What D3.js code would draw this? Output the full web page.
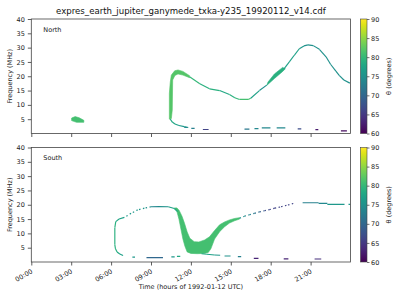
<!DOCTYPE html>
<html>
<head>
<meta charset="utf-8">
<script src="https://cdn.jsdelivr.net/npm/d3@7"></script>
<style>
  body { margin: 0; background: #fff; }
  svg { display: block; font-family: "DejaVu Sans", sans-serif; }
</style>
</head>
<body>
<div id="chart"></div>
<script>
const TITLE = 'expres_earth_jupiter_ganymede_txka-y235_19920112_v14.cdf'
const hourTicks = [0, 3, 6, 9, 12, 15, 18, 21]
const freqTicks = [5, 10, 15, 20, 25, 30, 35, 40]
const thetaTicks = [60, 65, 70, 75, 80, 85, 90]

// thick emission patches: outlines as [hour, MHz], one theta each
const northBlob = { theta: 81, pts: [[3.03, 5.4], [3.3, 5.9], [3.6, 5.5], [3.95, 4.6], [3.95, 3.9], [3.4, 3.9], [3.03, 4.5]] }
const northArc = { theta: 82, pts: [[10.38, 5.0], [10.38, 14.0], [10.45, 18.0], [10.53, 20.4], [10.78, 21.9], [11.03, 22.2], [11.4, 21.7], [11.9, 20.2], [11.9, 19.5], [11.4, 20.4], [11.03, 20.8], [10.8, 20.3], [10.63, 18.7], [10.6, 8.2], [10.53, 5.2]] }
const northBand = { theta: 79, pts: [[17.7, 16.8], [18.28, 19.2], [18.9, 21.7], [19.1, 22.6], [18.9, 23.1], [18.28, 20.8], [17.8, 18.0]] }
const southV = { theta: 81, pts: [[10.75, 18.9], [10.95, 17.6], [11.1, 15.0], [11.25, 11.5], [11.4, 8.0], [11.55, 5.5], [11.72, 3.5], [12.0, 3.0], [12.5, 2.9], [13.0, 3.0], [13.3, 3.3], [13.5, 4.6], [13.78, 8.0], [14.16, 10.6], [14.53, 12.3], [14.9, 13.6], [15.28, 14.4], [15.66, 15.0], [15.66, 15.5], [15.28, 15.2], [14.9, 14.7], [14.53, 14.0], [14.16, 13.0], [13.78, 11.0], [13.4, 8.8], [13.03, 7.7], [12.6, 7.0], [12.25, 7.1], [11.92, 8.3], [11.72, 10.5], [11.52, 13.5], [11.33, 16.0], [11.12, 18.0], [10.95, 18.9]] }

// thin traces: [hour, MHz, theta]
const northDescent = [[11.9, 19.85, 80], [12.67, 17.4, 79], [13.4, 15.6, 79], [14.16, 15.0, 78], [14.9, 13.6, 79], [15.3, 12.5, 80], [15.66, 11.9, 81], [16.3, 11.9, 81], [16.5, 12.3, 77], [17.15, 15.0, 75], [17.7, 16.9, 76]]
const northPeak = [[19.0, 22.6, 77], [19.4, 25.0, 77], [19.8, 27.5, 77], [20.15, 29.6, 76], [20.5, 30.6, 75], [20.8, 30.95, 75], [21.2, 30.7, 75], [21.66, 29.4, 75], [22.16, 26.8, 75], [22.5, 24.2, 75], [22.9, 21.8, 75], [23.15, 20.3, 75], [23.5, 18.7, 75], [23.95, 17.6, 75]]
const northLow = [[10.45, 5.0, 78], [10.6, 4.0, 78], [10.8, 3.3, 77], [11.1, 2.8, 76], [11.5, 2.4, 76], [11.8, 2.1, 75]]
const southTop = [[11.0, 17.6, 78], [10.75, 18.7, 77], [10.3, 19.3, 75], [9.6, 19.35, 74], [9.0, 19.3, 74]]
const southDotsLeft = [[9.0, 19.3, 75], [8.5, 18.8, 76], [8.0, 18.2, 76], [7.5, 17.0, 76], [7.0, 15.6, 77]]
const southLeft = [[7.0, 15.6, 77], [6.6, 15.0, 78], [6.35, 14.1, 79], [6.28, 12, 79], [6.28, 6, 79], [6.33, 4.6, 79], [6.45, 3.5, 78], [6.65, 2.8, 77], [6.9, 2.3, 77]]
const southLow = [[12.8, 2.9, 78], [13.2, 2.7, 77], [13.78, 2.45, 76], [14.2, 2.35, 76]]
const southDotsRight = [[15.66, 15.3, 75], [16.03, 16.0, 74], [16.4, 16.5, 73], [16.78, 17.0, 71], [17.15, 17.5, 69], [17.53, 17.9, 67], [17.9, 18.3, 66], [18.3, 18.8, 66], [18.78, 19.3, 66], [19.3, 19.9, 66], [19.8, 20.6, 66]]

// short flat pieces: [hourStart, hourEnd, MHz, theta]
const northDashes = [[11.5, 11.75, 2.1, 74], [12.03, 12.28, 1.8, 73], [12.9, 13.33, 1.4, 66], [16.03, 16.4, 1.5, 72], [16.78, 17.08, 1.7, 74], [17.33, 17.98, 2.0, 74], [18.45, 19.1, 2.0, 74], [20.03, 20.3, 1.6, 67], [21.36, 21.58, 1.35, 62], [23.28, 23.73, 0.95, 61]]
const southDashes = [[7.6, 7.8, 1.7, 76], [8.66, 9.9, 1.5, 70], [10.53, 10.78, 1.8, 76], [10.95, 11.2, 2.0, 78], [14.53, 14.98, 2.1, 75], [15.53, 15.78, 1.85, 73], [16.73, 17.08, 1.3, 63], [18.98, 19.33, 1.1, 63], [21.3, 21.8, 1.05, 64], [20.4, 21.6, 20.7, 73], [21.6, 22.26, 20.45, 74], [22.26, 23.55, 20.1, 76], [23.85, 24, 20.1, 76]]

const panels = [
  { name: 'North', top: 19, polys: [northBlob, northArc, northBand], traces: [northDescent, northPeak, northLow], dotted: [], dashes: northDashes, labels: false },
  { name: 'South', top: 147.5, polys: [southV], traces: [southTop, southLeft, southLow], dotted: [southDotsLeft, southDotsRight], dashes: southDashes, labels: true },
]

const W = 400, H = 300
const left = 31.3, right = 350.5, ph = 114.5
const svg = d3.select('#chart').append('svg').attr('width', W).attr('height', H)

const x = d3.scaleLinear().domain([0, 24]).range([left, right])
const color = d3.scaleSequential(d3.interpolateViridis).domain([60, 90])
const fmtHour = h => String(h).padStart(2, '0') + ':00'

svg.append('text')
  .attr('x', (left + right) / 2).attr('y', 13.5)
  .attr('text-anchor', 'middle').attr('font-size', 8.6).attr('fill', '#111')
  .text(TITLE)

// colorbar gradient
const grad = svg.append('defs').append('linearGradient')
  .attr('id', 'viridis').attr('x1', 0).attr('y1', 1).attr('x2', 0).attr('y2', 0)
grad.selectAll('stop').data(d3.range(0, 1.01, 0.05)).join('stop')
  .attr('offset', d => d).attr('stop-color', d => d3.interpolateViridis(d))

panels.forEach(p => {
  const y = d3.scaleLinear().domain([0, 40]).range([p.top + ph, p.top])
  const g = svg.append('g')
  const clip = 'clip-' + p.name
  g.append('clipPath').attr('id', clip).append('rect')
    .attr('x', left).attr('y', p.top).attr('width', right - left).attr('height', ph)
  const marks = g.append('g').attr('clip-path', `url(#${clip})`)

  const poly = d3.line().x(d => x(d[0])).y(d => y(d[1])).curve(d3.curveLinearClosed)
  marks.selectAll('path.patch').data(p.polys).join('path')
    .attr('class', 'patch')
    .attr('d', d => poly(d.pts))
    .attr('fill', d => color(d.theta))
    .attr('stroke', d => color(d.theta)).attr('stroke-width', 0.6)

  const drawTrace = (tr, dash) => {
    marks.append('g').selectAll('line').data(d3.pairs(tr)).join('line')
      .attr('x1', d => x(d[0][0])).attr('y1', d => y(d[0][1]))
      .attr('x2', d => x(d[1][0])).attr('y2', d => y(d[1][1]))
      .attr('stroke', d => color(d[0][2]))
      .attr('stroke-width', dash ? 1.2 : 1.15)
      .attr('stroke-dasharray', dash ? '1.5,2.5' : null)
  }
  p.traces.forEach(t => drawTrace(t, false))
  p.dotted.forEach(t => drawTrace(t, true))

  marks.append('g').selectAll('line').data(p.dashes).join('line')
    .attr('x1', d => x(d[0])).attr('x2', d => x(d[1]))
    .attr('y1', d => y(d[2])).attr('y2', d => y(d[2]))
    .attr('stroke', d => color(d[3])).attr('stroke-width', 1.2)

  // axes
  const ax = g.append('g').attr('transform', `translate(0,${p.top + ph})`)
    .call(d3.axisBottom(x).tickValues(hourTicks).tickSize(3.5).tickFormat(p.labels ? fmtHour : ''))
  ax.select('.domain').remove()
  ax.selectAll('line').attr('stroke', '#333').attr('stroke-width', 0.8)
  ax.selectAll('text')
    .attr('font-size', 6.5).attr('fill', '#222').attr('font-family', 'DejaVu Sans')
    .attr('text-anchor', 'end').attr('dy', 0)
    .attr('transform', 'translate(-2,5) rotate(-30)')

  const ay = g.append('g').attr('transform', `translate(${left},0)`)
    .call(d3.axisLeft(y).tickValues(freqTicks).tickSize(3.5))
  ay.select('.domain').remove()
  ay.selectAll('line').attr('stroke', '#333').attr('stroke-width', 0.8)
  ay.selectAll('text').attr('font-size', 6.5).attr('fill', '#222').attr('font-family', 'DejaVu Sans')

  g.append('rect').attr('x', left).attr('y', p.top).attr('width', right - left).attr('height', ph)
    .attr('fill', 'none').attr('stroke', '#444').attr('stroke-width', 0.8)

  g.append('text').attr('x', left + 12).attr('y', p.top + 12.5)
    .attr('font-size', 6.5).attr('fill', '#222').text(p.name)

  g.append('text')
    .attr('transform', `translate(10,${p.top + ph / 2}) rotate(-90)`)
    .attr('text-anchor', 'middle').attr('dy', '0.35em')
    .attr('font-size', 6.5).attr('fill', '#222').text('Frequency (MHz)')

  // colorbar
  const cb = g.append('g')
  const cy = d3.scaleLinear().domain([60, 90]).range([p.top + ph, p.top])
  cb.append('rect').attr('x', 360.5).attr('y', p.top).attr('width', 6.5).attr('height', ph)
    .attr('fill', 'url(#viridis)').attr('stroke', '#444').attr('stroke-width', 0.6)
  const ac = cb.append('g').attr('transform', 'translate(367,0)')
    .call(d3.axisRight(cy).tickValues(thetaTicks).tickSize(2.5))
  ac.select('.domain').remove()
  ac.selectAll('line').attr('stroke', '#333').attr('stroke-width', 0.7)
  ac.selectAll('text').attr('font-size', 6.5).attr('fill', '#222').attr('font-family', 'DejaVu Sans').attr('x', 4)
  cb.append('text')
    .attr('transform', `translate(389,${p.top + ph / 2}) rotate(-90)`)
    .attr('text-anchor', 'middle').attr('dy', '0.35em')
    .attr('font-size', 6.5).attr('fill', '#222').text('θ (degrees)')
})

svg.append('text')
  .attr('x', (left + right) / 2).attr('y', 289)
  .attr('text-anchor', 'middle').attr('font-size', 6.5).attr('fill', '#222')
  .text('Time (hours of 1992-01-12 UTC)')
</script>
</body>
</html>
